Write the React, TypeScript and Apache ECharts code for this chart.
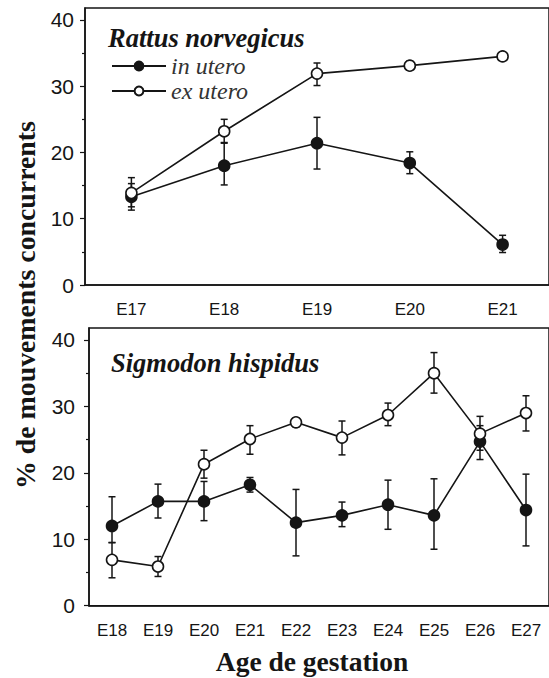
import React, { useEffect, useRef } from "react";
import * as echarts from "echarts";

const ratCats = ["E17", "E18", "E19", "E20", "E21"];
const ratInUtero = [13.3, 18.0, 21.4, 18.4, 6.1];
const ratInUteroLow = [11.3, 15.1, 17.5, 16.8, 4.9];
const ratInUteroHigh = [15.3, 21.5, 25.3, 20.1, 7.5];
const ratExUtero = [13.9, 23.2, 31.9, 33.1, 34.5];
const ratExUteroLow = [11.8, 21.4, 30.1, 32.4, 34.0];
const ratExUteroHigh = [16.2, 25.0, 33.5, 33.8, 35.0];

const sigCats = ["E18", "E19", "E20", "E21", "E22", "E23", "E24", "E25", "E26", "E27"];
const sigInUtero = [12.0, 15.7, 15.7, 18.2, 12.5, 13.6, 15.2, 13.6, 24.7, 14.4];
const sigInUteroLow = [9.5, 13.2, 12.8, 17.1, 7.5, 11.9, 11.5, 8.5, 22.0, 9.0];
const sigInUteroHigh = [16.4, 18.3, 18.7, 19.3, 17.5, 15.6, 18.9, 19.1, 27.1, 19.8];
const sigExUtero = [6.9, 5.9, 21.3, 25.1, 27.6, 25.3, 28.7, 35.0, 25.9, 29.0];
const sigExUteroLow = [4.2, 4.4, 19.2, 22.8, 26.9, 22.7, 27.1, 32.0, 23.4, 26.3];
const sigExUteroHigh = [9.5, 7.4, 23.4, 27.1, 28.3, 27.8, 30.5, 38.1, 28.5, 31.6];

const majorTicks = [0, 10, 20, 30, 40];
const minorTicks = [5, 15, 25, 35];

const INK = "#151515";
const SANS = "Liberation Sans";
const SERIF = "Liberation Serif";
const Y_MAX = 41.8;

function errData(low: number[], high: number[]) {
  return low.map((l, i) => [i, l, high[i]]);
}

function errSeries(name: string, low: number[], high: number[], idx: number) {
  return {
    type: "custom",
    name: name + " err",
    xAxisIndex: idx,
    yAxisIndex: idx * 2,
    z: 1,
    data: errData(low, high),
    encode: { x: 0, y: [1, 2] },
    renderItem: (params: any, api: any) => {
      const p1 = api.coord([api.value(0), api.value(1)]);
      const p2 = api.coord([api.value(0), api.value(2)]);
      const cw = 3.5;
      const st = { stroke: INK, lineWidth: 1.5 };
      return {
        type: "group",
        children: [
          { type: "line", shape: { x1: p1[0], y1: p1[1], x2: p2[0], y2: p2[1] }, style: st },
          { type: "line", shape: { x1: p1[0] - cw, y1: p1[1], x2: p1[0] + cw, y2: p1[1] }, style: st },
          { type: "line", shape: { x1: p2[0] - cw, y1: p2[1], x2: p2[0] + cw, y2: p2[1] }, style: st },
        ],
      };
    },
  };
}

function lineSeries(name: string, data: number[], idx: number, open: boolean) {
  return {
    type: "line",
    name,
    xAxisIndex: idx,
    yAxisIndex: idx * 2,
    data,
    z: open ? 4 : 3,
    symbol: "circle",
    symbolSize: 11,
    lineStyle: { color: INK, width: 1.6 },
    itemStyle: { color: open ? "#ffffff" : INK, borderColor: INK, borderWidth: 1.6 },
    emphasis: { disabled: true },
  };
}

function xAxis(cats: string[], grid: number) {
  return {
    type: "category",
    gridIndex: grid,
    data: cats,
    boundaryGap: true,
    axisLine: { lineStyle: { color: INK, width: 1.5 } },
    axisTick: { alignWithLabel: true, length: 3, lineStyle: { color: INK, width: 1.2 } },
    axisLabel: { color: INK, fontFamily: SANS, fontSize: 17, margin: 16 },
    splitLine: { show: false },
  };
}

function yAxes(grid: number, labelMargin: number) {
  return [
    {
      type: "value",
      gridIndex: grid,
      min: 0,
      max: Y_MAX,
      axisLine: { show: true, lineStyle: { color: INK, width: 1.5 } },
      axisTick: { show: true, length: 5, customValues: majorTicks, lineStyle: { color: INK, width: 1.2 } },
      axisLabel: { color: INK, fontFamily: SANS, fontSize: 21, margin: labelMargin, customValues: majorTicks },
      splitLine: { show: false },
    },
    {
      type: "value",
      gridIndex: grid,
      min: 0,
      max: Y_MAX,
      position: "left",
      axisLine: { show: false },
      axisTick: { show: true, length: 3, customValues: minorTicks, lineStyle: { color: INK, width: 1.2 } },
      axisLabel: { show: false },
      splitLine: { show: false },
    },
  ];
}

export default function App() {
  const ref = useRef<HTMLDivElement>(null);
  useEffect(() => {
    if (!ref.current) return;
    const chart = echarts.init(ref.current, null, { renderer: "svg" });
    chart.setOption({
      animation: false,
      backgroundColor: "#ffffff",
      grid: [
        { left: 85, top: 8, width: 468.5, height: 277, show: true, borderColor: INK, borderWidth: 1.5, backgroundColor: "transparent" },
        { left: 89, top: 328, width: 464, height: 277.7, show: true, borderColor: INK, borderWidth: 1.5, backgroundColor: "transparent" },
      ],
      xAxis: [xAxis(ratCats, 0), xAxis(sigCats, 1)],
      yAxis: [...yAxes(0, 11), ...yAxes(1, 14)],
      legend: {
        data: ["in utero", "ex utero"],
        orient: "vertical",
        left: 106,
        top: 49,
        itemWidth: 54,
        itemHeight: 11,
        itemGap: 1,
        selectedMode: false,
        textStyle: { fontFamily: SERIF, fontStyle: "italic", fontSize: 24, color: "#333" },
      },
      title: [
        {
          text: "Rattus norvegicus",
          left: 103,
          top: 19,
          textStyle: { fontFamily: SERIF, fontStyle: "italic", fontWeight: "bold", fontSize: 26.5, color: INK },
        },
        {
          text: "Sigmodon hispidus",
          left: 106,
          top: 344,
          textStyle: { fontFamily: SERIF, fontStyle: "italic", fontWeight: "bold", fontSize: 26.5, color: INK },
        },
      ],
      graphic: [
        {
          type: "text",
          x: 25,
          y: 305,
          rotation: Math.PI / 2,
          style: {
            text: "% de mouvements concurrents",
            fontFamily: SERIF,
            fontWeight: "bold",
            fontSize: 27.8,
            fill: INK,
            align: "center",
            verticalAlign: "middle",
          },
        },
        {
          type: "text",
          x: 312,
          y: 661,
          style: {
            text: "Age de gestation",
            fontFamily: SERIF,
            fontWeight: "bold",
            fontSize: 27.5,
            fill: INK,
            align: "center",
            verticalAlign: "middle",
          },
        },
      ],
      series: [
        errSeries("in utero", ratInUteroLow, ratInUteroHigh, 0),
        errSeries("ex utero", ratExUteroLow, ratExUteroHigh, 0),
        lineSeries("in utero", ratInUtero, 0, false),
        lineSeries("ex utero", ratExUtero, 0, true),
        errSeries("in utero", sigInUteroLow, sigInUteroHigh, 1),
        errSeries("ex utero", sigExUteroLow, sigExUteroHigh, 1),
        lineSeries("in utero", sigInUtero, 1, false),
        lineSeries("ex utero", sigExUtero, 1, true),
      ],
    });
    return () => chart.dispose();
  }, []);
  return (
    <div
      ref={ref}
      style={{ position: "fixed", left: 0, top: 0, width: 549, height: 678, background: "#fff" }}
    />
  );
}
